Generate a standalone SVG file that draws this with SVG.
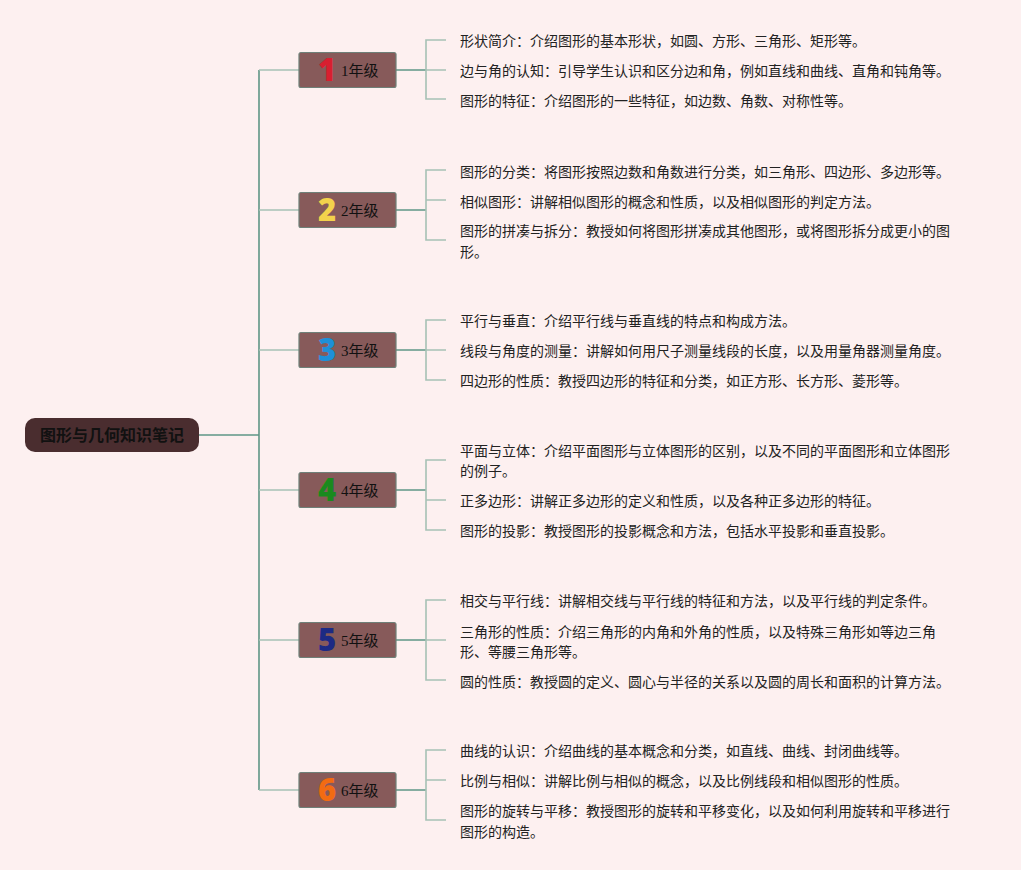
<svg xmlns="http://www.w3.org/2000/svg" width="1021" height="870" viewBox="0 0 1021 870">
<defs>
<style>
.bg{fill:#fdf0f0}
.main{stroke:#5f9686;stroke-width:1.6;fill:none}
.light{stroke:#a6c1b5;stroke-width:1.6;fill:none}
.root{fill:#4a2d2f}
.roott{font-family:"Noto Sans CJK SC",sans-serif;font-size:16px;font-weight:bold;fill:#111;text-anchor:middle}
.grade{fill:#875a5a;stroke:#6e8078;stroke-width:1.2}
.gt{font-family:"Liberation Serif","Noto Sans CJK SC",serif;font-size:15px;fill:#111}
.num{font-family:"Noto Sans","DejaVu Sans",sans-serif;font-size:31px;font-weight:900;text-anchor:middle}
.leaf{font-family:"Noto Sans CJK SC",sans-serif;font-size:14px;fill:#222}
</style>
</defs>
<rect class="bg" x="0" y="0" width="1021" height="870"/>
<g id="connectors">
<path class="main" d="M199 435H259M259 70V790"/>
<path class="light" d="M259 70H299M259 210H299M259 350H299M259 490H299M259 640H299M259 790H299"/>
<path class="main" d="M396 70H426M396 210H426M396 350H426M396 490H426M396 640H426M396 790H426"/>
<path class="light" d="M446 40H426V99H446M426 70H446"/>
<path class="light" d="M446 170H426V240H446M426 200H446"/>
<path class="light" d="M446 320H426V380H446M426 350H446"/>
<path class="light" d="M446 460H426V530H446M426 500H446"/>
<path class="light" d="M446 600H426V680H446M426 640H446"/>
<path class="light" d="M446 750H426V820H446M426 780H446"/>
</g>
<g id="root">
<rect class="root" x="25" y="418" width="174" height="34" rx="10"/>
<text class="roott" x="112" y="441">图形与几何知识笔记</text>
</g>
<g id="grade1">
<rect class="grade" x="299" y="52.5" width="97" height="35" rx="2"/>
<text class="num" x="327" y="81" fill="#d81f30">1</text>
<text class="gt" x="341" y="76">1年级</text>
</g>
<g id="grade2">
<rect class="grade" x="299" y="192.5" width="97" height="35" rx="2"/>
<text class="num" x="327" y="221" fill="#f3d24c">2</text>
<text class="gt" x="341" y="216">2年级</text>
</g>
<g id="grade3">
<rect class="grade" x="299" y="332.5" width="97" height="35" rx="2"/>
<text class="num" x="327" y="361" fill="#1e90d8">3</text>
<text class="gt" x="341" y="356">3年级</text>
</g>
<g id="grade4">
<rect class="grade" x="299" y="472.5" width="97" height="35" rx="2"/>
<text class="num" x="327" y="501" fill="#1a8a1e">4</text>
<text class="gt" x="341" y="496">4年级</text>
</g>
<g id="grade5">
<rect class="grade" x="299" y="622.5" width="97" height="35" rx="2"/>
<text class="num" x="327" y="651" fill="#1d2a84">5</text>
<text class="gt" x="341" y="646">5年级</text>
</g>
<g id="grade6">
<rect class="grade" x="299" y="772.5" width="97" height="35" rx="2"/>
<text class="num" x="327" y="801" fill="#f26b12">6</text>
<text class="gt" x="341" y="796">6年级</text>
</g>
<g id="leaves1">
<text class="leaf" x="460" y="46">形状简介：介绍图形的基本形状，如圆、方形、三角形、矩形等。</text>
<text class="leaf" x="460" y="76">边与角的认知：引导学生认识和区分边和角，例如直线和曲线、直角和钝角等。</text>
<text class="leaf" x="460" y="106">图形的特征：介绍图形的一些特征，如边数、角数、对称性等。</text>
</g>
<g id="leaves2">
<text class="leaf" x="460" y="177">图形的分类：将图形按照边数和角数进行分类，如三角形、四边形、多边形等。</text>
<text class="leaf" x="460" y="207">相似图形：讲解相似图形的概念和性质，以及相似图形的判定方法。</text>
<text class="leaf" x="460" y="236">图形的拼凑与拆分：教授如何将图形拼凑成其他图形，或将图形拆分成更小的图</text>
<text class="leaf" x="460" y="257">形。</text>
</g>
<g id="leaves3">
<text class="leaf" x="460" y="326">平行与垂直：介绍平行线与垂直线的特点和构成方法。</text>
<text class="leaf" x="460" y="356">线段与角度的测量：讲解如何用尺子测量线段的长度，以及用量角器测量角度。</text>
<text class="leaf" x="460" y="386">四边形的性质：教授四边形的特征和分类，如正方形、长方形、菱形等。</text>
</g>
<g id="leaves4">
<text class="leaf" x="460" y="456">平面与立体：介绍平面图形与立体图形的区别，以及不同的平面图形和立体图形</text>
<text class="leaf" x="460" y="476">的例子。</text>
<text class="leaf" x="460" y="506">正多边形：讲解正多边形的定义和性质，以及各种正多边形的特征。</text>
<text class="leaf" x="460" y="536">图形的投影：教授图形的投影概念和方法，包括水平投影和垂直投影。</text>
</g>
<g id="leaves5">
<text class="leaf" x="460" y="606">相交与平行线：讲解相交线与平行线的特征和方法，以及平行线的判定条件。</text>
<text class="leaf" x="460" y="637">三角形的性质：介绍三角形的内角和外角的性质，以及特殊三角形如等边三角</text>
<text class="leaf" x="460" y="657">形、等腰三角形等。</text>
<text class="leaf" x="460" y="687">圆的性质：教授圆的定义、圆心与半径的关系以及圆的周长和面积的计算方法。</text>
</g>
<g id="leaves6">
<text class="leaf" x="460" y="756">曲线的认识：介绍曲线的基本概念和分类，如直线、曲线、封闭曲线等。</text>
<text class="leaf" x="460" y="786">比例与相似：讲解比例与相似的概念，以及比例线段和相似图形的性质。</text>
<text class="leaf" x="460" y="816">图形的旋转与平移：教授图形的旋转和平移变化，以及如何利用旋转和平移进行</text>
<text class="leaf" x="460" y="837">图形的构造。</text>
</g>
</svg>
